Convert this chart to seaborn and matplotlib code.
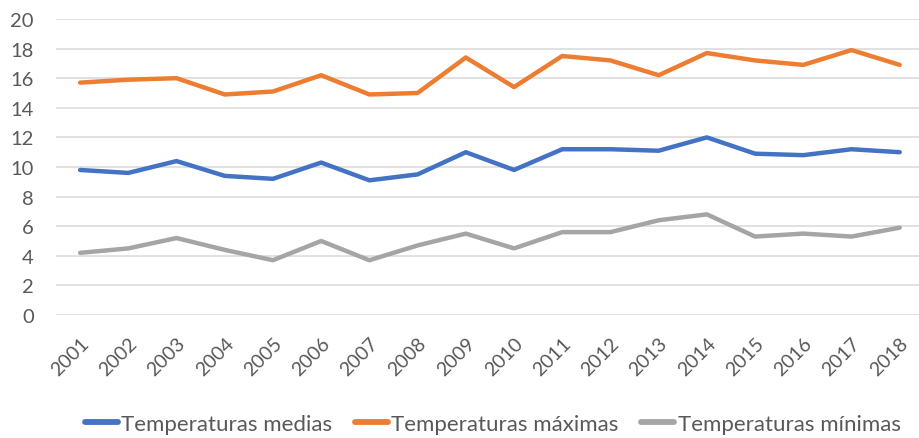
"""
Temperaturas anuales 2001-2018 (medias, maximas, minimas).
"""
import numpy as np
import pandas as pd
import matplotlib.pyplot as plt
import seaborn as sns

# Datos
years = [str(y) for y in range(2001, 2019)]
temp_medias = [9.8, 9.6, 10.4, 9.4, 9.2, 10.3, 9.1, 9.5, 11.0, 9.8,
               11.2, 11.2, 11.1, 12.0, 10.9, 10.8, 11.2, 11.0]
temp_maximas = [15.7, 15.9, 16.0, 14.9, 15.1, 16.2, 14.9, 15.0, 17.4, 15.4,
                17.5, 17.2, 16.2, 17.7, 17.2, 16.9, 17.9, 16.9]
temp_minimas = [4.2, 4.5, 5.2, 4.4, 3.7, 5.0, 3.7, 4.7, 5.5, 4.5,
                5.6, 5.6, 6.4, 6.8, 5.3, 5.5, 5.3, 5.9]

series = {
    "Temperaturas medias": temp_medias,
    "Temperaturas máximas": temp_maximas,
    "Temperaturas mínimas": temp_minimas,
}
COLORS = {
    "Temperaturas medias": "#4472C4",
    "Temperaturas máximas": "#ED7D31",
    "Temperaturas mínimas": "#A5A5A5",
}

df = pd.concat(
    [pd.DataFrame({"year": years, "temp": vals, "serie": name}) for name, vals in series.items()],
    ignore_index=True,
)
df["x"] = df["year"].map({y: i for i, y in enumerate(years)})

sns.set_theme(style="white")
plt.rcParams["font.family"] = ["Lato", "DejaVu Sans"]

fig = plt.figure(figsize=(9.19, 4.39), dpi=100)
ax = fig.add_axes([56 / 919, 123 / 439, 1 - 56 / 919, 296 / 439])

sns.lineplot(data=df, x="x", y="temp", hue="serie", palette=COLORS,
             linewidth=3.2, ax=ax, legend=False, solid_capstyle="round")

ax.set_ylim(0, 20)
ax.set_xlim(-0.5, 17.4)
ax.set_yticks(np.arange(0, 21, 2))
ax.set_xticks(range(len(years)))
ax.set_xticklabels(years, rotation=45, ha="right", rotation_mode="anchor")
ax.tick_params(axis="both", colors="#595959", length=0)
ax.tick_params(axis="x", pad=14, labelsize=14)
ax.tick_params(axis="y", pad=16, labelsize=14.5)
ax.yaxis.grid(True, color="#D9D9D9", linewidth=1.1)
ax.set_axisbelow(True)
for s in ax.spines.values():
    s.set_visible(False)
ax.set_xlabel("")
ax.set_ylabel("")

handles = [plt.Line2D([], [], color=c, linewidth=4.2, solid_capstyle="round") for c in COLORS.values()]
fig.legend(handles, list(COLORS.keys()), loc="center", bbox_to_anchor=(0.536, 0.032),
           ncol=3, frameon=False, fontsize=16, labelcolor="#595959",
           handlelength=1.5, handletextpad=0.15, columnspacing=1.0)

plt.savefig("out.png", dpi=100)
plt.close()
